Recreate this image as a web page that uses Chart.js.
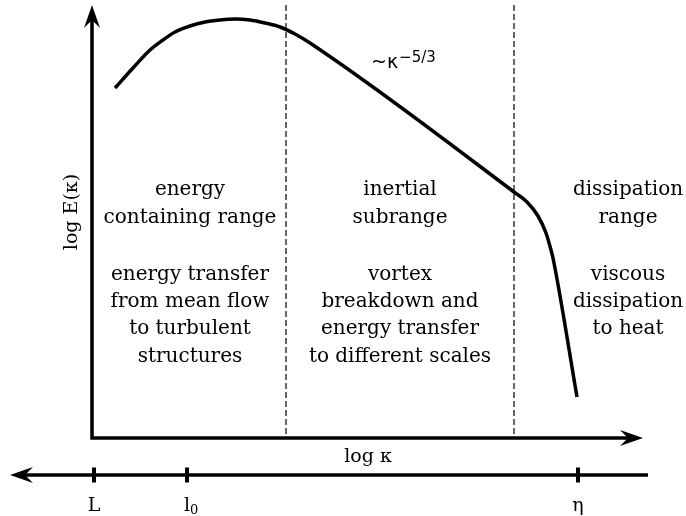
<!DOCTYPE html>
<html>
<head>
<meta charset="utf-8">
<script src="https://cdn.jsdelivr.net/npm/chart.js@4/dist/chart.umd.min.js"></script>
<style>
  body { margin: 0; background: #fff; }
  canvas { display: block; }
</style>
</head>
<body>
<canvas id="spectrum" width="686" height="516"></canvas>
<script>
// energy spectrum sketch, x = log k, y = log E(k) (arbitrary units)
const logK = [2.3, 4.1, 5.8, 7.1, 8.3, 9.8, 11.3, 12.8, 14.3, 15.8, 17.3, 18.8, 20.3, 21.8,
              42.2, 43.5, 44.6, 45.4, 45.9, 46.1, 48.5];
const logE = [35.0, 37.0, 38.8, 39.8, 40.6, 41.2, 41.6, 41.8, 41.9, 41.8, 41.5, 41.1, 40.4, 39.5,
              24.6, 23.6, 22.2, 20.5, 18.8, 18.0, 4.1];

const dividers = [19.4, 42.2];          // range boundaries on log k
const scaleTicks = [0.2, 9.5, 48.6];    // L, l0, eta on the length-scale axis
const scaleTickLabels = ['L', 'l', 'η'];
const scaleTickSubs = ['', '0', ''];

const rangeTitles = [
  ['energy', 'containing range'],
  ['inertial', 'subrange'],
  ['dissipation', 'range']
];
const rangeNotes = [
  ['energy transfer', 'from mean flow', 'to turbulent', 'structures'],
  ['vortex', 'breakdown and', 'energy transfer', 'to different scales'],
  ['viscous', 'dissipation', 'to heat']
];
const rangeCenters = [9.8, 30.8, 53.6];

const serif = '"DejaVu Serif", serif';
const sans = '"DejaVu Sans", sans-serif';

function arrowHead(ctx, x, y, ang) {
  ctx.save();
  ctx.translate(x, y);
  ctx.rotate(ang);
  ctx.beginPath();
  ctx.moveTo(0, 0);
  ctx.lineTo(-23, -8);
  ctx.lineTo(-15, 0);
  ctx.lineTo(-23, 8);
  ctx.closePath();
  ctx.fill();
  ctx.restore();
}

const sketch = {
  id: 'sketch',
  beforeDatasetsDraw(chart) {
    const ctx = chart.ctx;
    const xs = chart.scales.x, ys = chart.scales.y;
    const X = v => xs.getPixelForValue(v), Y = v => ys.getPixelForValue(v);
    ctx.save();
    ctx.strokeStyle = '#000';
    ctx.fillStyle = '#000';

    // dashed range dividers
    ctx.lineWidth = 1.2;
    ctx.setLineDash([6, 3]);
    dividers.forEach(d => {
      ctx.beginPath();
      ctx.moveTo(X(d), Y(43.3));
      ctx.lineTo(X(d), Y(0));
      ctx.stroke();
    });
    ctx.setLineDash([]);

    // main axes
    ctx.lineWidth = 3.5;
    ctx.beginPath();
    ctx.moveTo(X(0), Y(42));
    ctx.lineTo(X(0), Y(0));
    ctx.lineTo(X(54), Y(0));
    ctx.stroke();
    arrowHead(ctx, X(0), Y(43.3), -Math.PI / 2);
    arrowHead(ctx, X(55.1), Y(0), 0);

    // length scale axis (reversed direction)
    ctx.beginPath();
    ctx.moveTo(X(-7), Y(-3.7));
    ctx.lineTo(X(55.6), Y(-3.7));
    ctx.stroke();
    arrowHead(ctx, X(-8.2), Y(-3.7), Math.PI);
    ctx.lineWidth = 4;
    scaleTicks.forEach(t => {
      ctx.beginPath();
      ctx.moveTo(X(t), Y(-3.7) - 7.5);
      ctx.lineTo(X(t), Y(-3.7) + 7.5);
      ctx.stroke();
    });
    ctx.restore();
  },
  afterDatasetsDraw(chart) {
    const ctx = chart.ctx;
    const xs = chart.scales.x, ys = chart.scales.y;
    const X = v => xs.getPixelForValue(v), Y = v => ys.getPixelForValue(v);
    ctx.save();
    ctx.fillStyle = '#000';
    ctx.textBaseline = 'middle';
    ctx.textAlign = 'center';

    // range descriptions
    ctx.font = '20px ' + serif;
    const titleY = [24.8, 22.0];
    const noteY = [16.3, 13.6, 10.9, 8.1];
    rangeCenters.forEach((cx, i) => {
      rangeTitles[i].forEach((s, j) => ctx.fillText(s, X(cx), Y(titleY[j])));
      rangeNotes[i].forEach((s, j) => ctx.fillText(s, X(cx), Y(noteY[j])));
    });

    // slope label
    ctx.textBaseline = 'alphabetic';
    ctx.textAlign = 'left';
    ctx.font = '19px ' + sans;
    const sx = X(27.9);
    ctx.fillText('~κ', sx, Y(37.0));
    const w = ctx.measureText('~κ').width;
    ctx.font = '15px ' + sans;
    ctx.fillText('−5/3', sx + w + 1, Y(37.6));

    // axis titles
    ctx.textAlign = 'center';
    ctx.font = '19px ' + serif;
    ctx.fillText('log κ', X(27.6), Y(-2.4));
    scaleTicks.forEach((t, i) => {
      ctx.font = '19px ' + serif;
      ctx.fillText(scaleTickLabels[i], X(t), Y(-7.3));
      if (scaleTickSubs[i]) {
        ctx.font = '13px ' + serif;
        ctx.textAlign = 'left';
        ctx.fillText(scaleTickSubs[i], X(t) + 3, Y(-7.3) + 3);
        ctx.textAlign = 'center';
      }
    });

    ctx.save();
    ctx.translate(X(-2.0), Y(22.6));
    ctx.rotate(-Math.PI / 2);
    ctx.textBaseline = 'middle';
    ctx.font = '19px ' + serif;
    ctx.fillText('log E(κ)', 0, 0);
    ctx.restore();
    ctx.restore();
  }
};

new Chart(document.getElementById('spectrum'), {
  type: 'scatter',
  data: {
    datasets: [{
      data: logK.map((k, i) => ({ x: k, y: logE[i] })),
      showLine: true,
      borderColor: '#000',
      borderWidth: 3.5,
      pointRadius: 0,
      cubicInterpolationMode: 'monotone',
      fill: false
    }]
  },
  options: {
    responsive: false,
    animation: false,
    layout: { padding: 0 },
    plugins: {
      legend: { display: false },
      tooltip: { enabled: false }
    },
    scales: {
      x: { type: 'linear', min: -9.2, max: 59.4, display: false },
      y: { type: 'linear', min: -7.8, max: 43.8, display: false }
    }
  },
  plugins: [sketch]
});
</script>
</body>
</html>
